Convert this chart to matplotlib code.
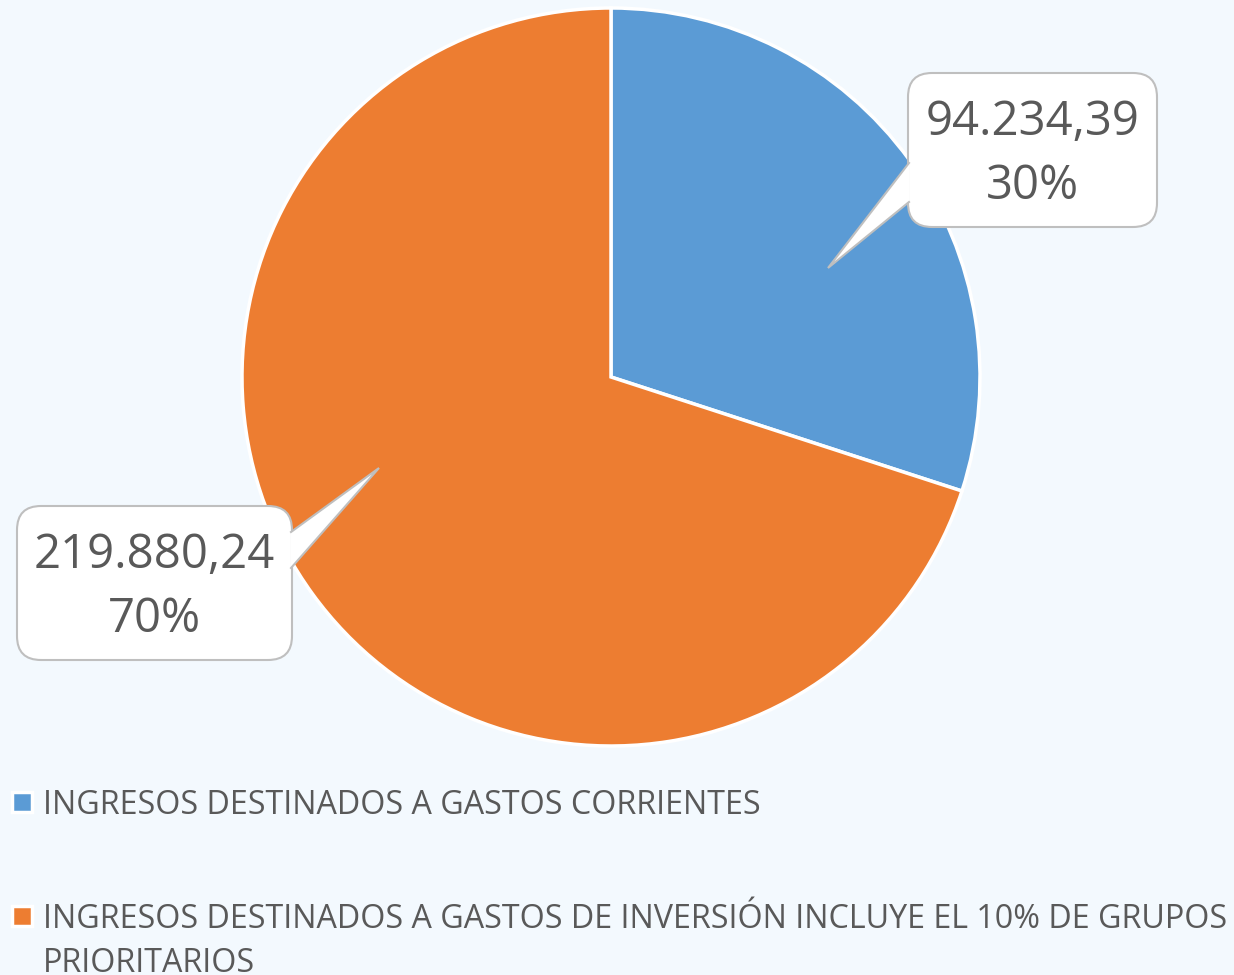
import matplotlib
matplotlib.use("Agg")
import matplotlib.pyplot as plt
from matplotlib.patches import FancyBboxPatch, Rectangle, Polygon

categories = ["INGRESOS DESTINADOS A GASTOS CORRIENTES",
              "INGRESOS DESTINADOS A GASTOS DE INVERSIÓN INCLUYE EL 10% DE GRUPOS\nPRIORITARIOS"]
values = [94234.39, 219880.24]
colors = ["#5B9BD5", "#ED7D31"]

W, H = 1234, 975
BG = "#F3F9FE"
TXT = "#595959"
FONT = "Open Sans"

def Y(p):
    return H - p

def fmt_eu(v):
    s = f"{v:,.2f}"
    return s.replace(",", "X").replace(".", ",").replace("X", ".")

fig = plt.figure(figsize=(W / 100, H / 100), dpi=100, facecolor=BG)
ax = fig.add_axes([0, 0, 1, 1])
ax.set_facecolor(BG)

ax.pie(values, colors=colors, startangle=90, counterclock=False,
       center=(611, Y(377)), radius=369,
       wedgeprops=dict(edgecolor="white", linewidth=2.5))
ax.set_xlim(0, W)
ax.set_ylim(0, H)
ax.set_aspect("equal")
ax.axis("off")

total = sum(values)
# callouts: (box x0, y0, x1, y1 in px), (join1, join2 on box edge), tip
callouts = [
    dict(box=(908, 73, 1157, 227), j1=(909, 163), j2=(909, 202), tip=(828, 268)),
    dict(box=(17, 506, 292, 660), j1=(291, 532), j2=(291, 568), tip=(379, 468)),
]
for v, c in zip(values, callouts):
    x0, y0, x1, y1 = c["box"]
    r = 24
    box = FancyBboxPatch((x0 + r, Y(y1) + r), (x1 - x0) - 2 * r, (y1 - y0) - 2 * r,
                         boxstyle=f"round,pad={r}", facecolor="white",
                         edgecolor="#BFBFBF", linewidth=1.5, zorder=5)
    ax.add_patch(box)
    (ax1, ay1), (ax2, ay2), (tx, ty) = c["j1"], c["j2"], c["tip"]
    tri = Polygon([(ax1, Y(ay1)), (tx, Y(ty)), (ax2, Y(ay2))], closed=True,
                  facecolor="white", edgecolor="none", zorder=6)
    ax.add_patch(tri)
    ax.plot([ax1, tx, ax2], [Y(ay1), Y(ty), Y(ay2)], color="#BFBFBF", lw=1.5,
            zorder=7, solid_joinstyle="miter")
    cx = (x0 + x1) / 2
    cy = (y0 + y1) / 2
    ax.text(cx, Y(cy - 28), fmt_eu(v), ha="center", va="center", fontsize=34,
            color=TXT, family=FONT, zorder=8)
    ax.text(cx, Y(cy + 36), f"{v / total:.0%}", ha="center", va="center", fontsize=34,
            color=TXT, family=FONT, zorder=8)

# legend
leg_y = [802, 916]
for lab, col, yy in zip(categories, colors, leg_y):
    ax.add_patch(Rectangle((12, Y(yy) - 10), 20, 20, facecolor=col,
                           edgecolor="white", linewidth=2.5, zorder=5))
    for i, line in enumerate(lab.split("\n")):
        ax.text(43, Y(yy + i * 44), line, ha="left", va="center_baseline",
                fontsize=23.2, color=TXT, family=FONT)

fig.savefig("out.png", dpi=100, facecolor=BG)
